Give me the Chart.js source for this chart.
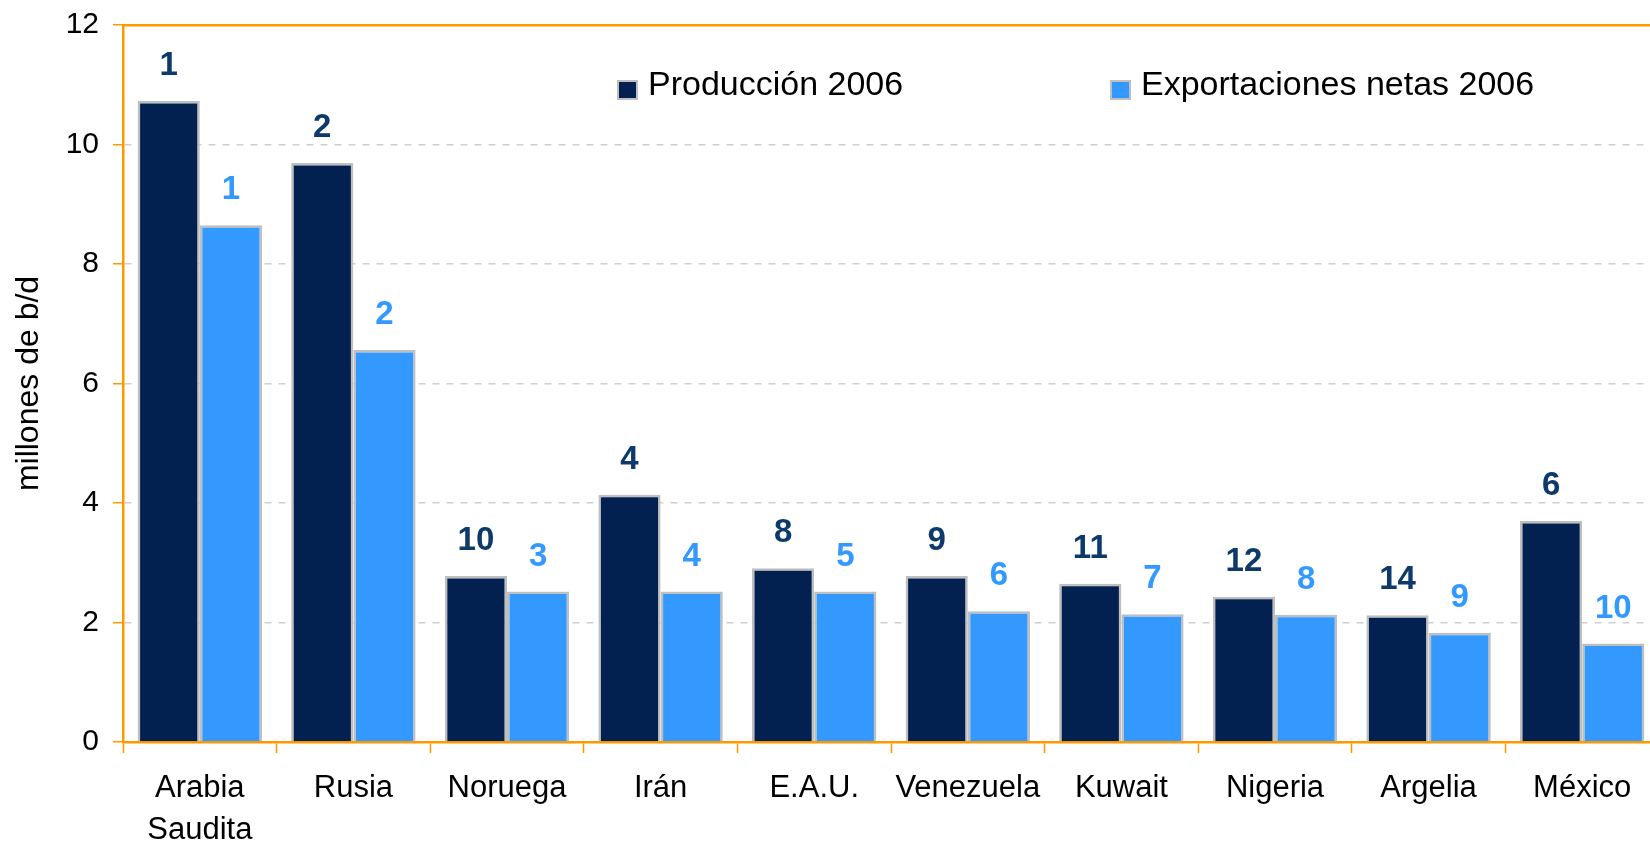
<!DOCTYPE html>
<html lang="es">
<head>
    <meta charset="UTF-8">
    <title>Producción y exportaciones netas 2006</title>
    <script src="https://cdn.jsdelivr.net/npm/chart.js"></script>
    <style>
        html, body {
            margin: 0;
            padding: 0;
            overflow: hidden;
            background: #ffffff;
        }
        canvas {
            display: block;
        }
    </style>
</head>
<body>
    <canvas id="grafico" width="1659" height="844" style="width:1659px;height:844px"></canvas>
    <script>
        // Datos (millones de b/d)
        const paises = [['Arabia', 'Saudita'], 'Rusia', 'Noruega', 'Irán', 'E.A.U.', 'Venezuela', 'Kuwait', 'Nigeria', 'Argelia', 'México'];
        const produccion = [10.73, 9.69, 2.78, 4.14, 2.91, 2.78, 2.65, 2.43, 2.12, 3.70];
        const exportaciones = [8.65, 6.56, 2.52, 2.52, 2.52, 2.19, 2.14, 2.13, 1.83, 1.65];
        const rangoProduccion = [1, 2, 10, 4, 8, 9, 11, 12, 14, 6];
        const rangoExportaciones = [1, 2, 3, 4, 5, 6, 7, 8, 9, 10];
        const seriesNombres = ['Producción 2006', 'Exportaciones netas 2006'];

        const FUENTE = 'Arial, "Liberation Sans", sans-serif';
        const NARANJA = '#ff9900';
        const colorBarras = ['#022150', '#3399ff'];
        const colorRangos = ['#0e3a6b', '#3399ff'];

        Chart.defaults.font.family = FUENTE;
        Chart.defaults.color = '#000000';

        // numeros de ranking encima de cada barra
        const rangos = {
            id: 'rangos',
            afterDatasetsDraw(chart) {
                const ctx = chart.ctx;
                const listas = [rangoProduccion, rangoExportaciones];
                ctx.save();
                ctx.font = 'bold 33px ' + FUENTE;
                ctx.textAlign = 'center';
                ctx.textBaseline = 'middle';
                chart.data.datasets.forEach((ds, d) => {
                    const meta = chart.getDatasetMeta(d);
                    ctx.fillStyle = colorRangos[d];
                    meta.data.forEach((bar, i) => {
                        ctx.fillText(String(listas[d][i]), bar.x, bar.y - 35);
                    });
                });
                ctx.restore();
            }
        };

        // leyenda dentro del area del grafico
        const leyenda = {
            id: 'leyenda',
            afterDraw(chart) {
                const ctx = chart.ctx;
                const posiciones = [617, 1110];
                ctx.save();
                ctx.font = '34px ' + FUENTE;
                ctx.textBaseline = 'middle';
                chart.data.datasets.forEach((ds, d) => {
                    const x = posiciones[d];
                    ctx.fillStyle = '#bfbfbf';
                    ctx.fillRect(x, 80, 21, 20);
                    ctx.fillStyle = colorBarras[d];
                    ctx.fillRect(x + 2, 82, 17, 16);
                    ctx.fillStyle = '#000000';
                    ctx.fillText(ds.label, x + 31, 86);
                });
                ctx.restore();
            }
        };

        const config = {
            type: 'bar',
            data: {
                labels: paises,
                datasets: [
                    {
                        label: seriesNombres[0],
                        data: produccion,
                        backgroundColor: colorBarras[0],
                        borderColor: '#bfbfbf',
                        borderWidth: 2.5
                    },
                    {
                        label: seriesNombres[1],
                        data: exportaciones,
                        backgroundColor: colorBarras[1],
                        borderColor: '#bfbfbf',
                        borderWidth: 2.5
                    }
                ]
            },
            options: {
                responsive: false,
                animation: false,
                devicePixelRatio: 1,
                datasets: {
                    bar: {
                        categoryPercentage: 0.81,
                        barPercentage: 1.0
                    }
                },
                layout: {
                    padding: { top: 25, right: 0, bottom: 0, left: 0 }
                },
                scales: {
                    x: {
                        position: 'bottom',
                        afterFit: s => { s.height = 102; s.paddingLeft = 0; s.paddingRight = 0; },
                        grid: {
                            offset: true,
                            drawOnChartArea: false,
                            tickLength: 11,
                            tickColor: NARANJA,
                            tickWidth: 1.5
                        },
                        border: { color: NARANJA, width: 2.5 },
                        ticks: {
                            autoSkip: false,
                            maxRotation: 0,
                            padding: 14,
                            font: { size: 31, lineHeight: 1.355 },
                            color: '#000000'
                        }
                    },
                    xTop: {
                        position: 'top',
                        afterFit: s => { s.height = 0; },
                        grid: { display: false, drawTicks: false },
                        ticks: { display: false },
                        border: { color: NARANJA, width: 2.5 }
                    },
                    y: {
                        min: 0,
                        max: 12,
                        afterFit: s => { s.width = 123; s.paddingTop = 0; s.paddingBottom = 0; },
                        ticks: {
                            stepSize: 2,
                            padding: 14,
                            font: { size: 30 },
                            color: '#000000'
                        },
                        grid: {
                            color: c => (c.tick.value === 0 || c.tick.value === 12) ? 'rgba(0,0,0,0)' : '#d0d0d0',
                            lineWidth: 1.5,
                            tickLength: 10,
                            tickColor: NARANJA,
                            tickWidth: 1.5,
                            tickBorderDash: []
                        },
                        border: { color: NARANJA, width: 2.5, dash: [7, 7] },
                        title: {
                            display: true,
                            text: 'millones de b/d',
                            font: { size: 32 },
                            color: '#000000',
                            padding: { top: 10, bottom: 0 }
                        }
                    }
                },
                plugins: {
                    legend: { display: false },
                    tooltip: { enabled: false }
                }
            },
            plugins: [rangos, leyenda]
        };

        const ctx = document.getElementById('grafico').getContext('2d');
        new Chart(ctx, config);
    </script>
</body>
</html>
